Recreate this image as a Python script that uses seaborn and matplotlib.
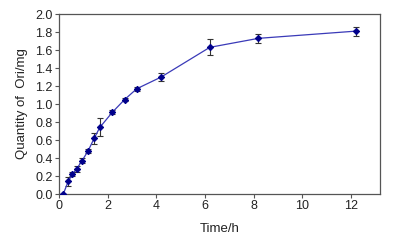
import numpy as np
import pandas as pd
import matplotlib
matplotlib.use("Agg")
import matplotlib.pyplot as plt
import seaborn as sns

time_h = [0.18, 0.38, 0.55, 0.73, 0.95, 1.2, 1.45, 1.68, 2.2, 2.7, 3.2, 4.2, 6.2, 8.2, 12.2]
ori_mg = [0.0, 0.14, 0.22, 0.28, 0.37, 0.48, 0.62, 0.74, 0.91, 1.05, 1.17, 1.30, 1.63, 1.73, 1.81]
ori_err = [0.0, 0.05, 0.02, 0.03, 0.03, 0.02, 0.06, 0.10, 0.02, 0.02, 0.02, 0.04, 0.09, 0.05, 0.05]

df = pd.DataFrame({"t": time_h, "q": ori_mg, "err": ori_err})

sns.set_theme(style="white")
plt.rcParams["font.family"] = ["Liberation Sans", "DejaVu Sans"]

fig, ax = plt.subplots(figsize=(3.98, 2.42), dpi=100)
fig.subplots_adjust(left=0.148, right=0.955, top=0.942, bottom=0.198)

ax.errorbar(df["t"], df["q"], yerr=df["err"], fmt="none", ecolor="#333333",
            elinewidth=0.8, capsize=2.2, capthick=0.8, zorder=2)
sns.lineplot(data=df, x="t", y="q", ax=ax, color="#3a3ab8", linewidth=0.9,
             marker="D", markersize=3.2, markerfacecolor="#00008b",
             markeredgecolor="#00008b", zorder=3)

ax.set_xlim(0, 13.2)
ax.set_ylim(0, 2.0)
ax.set_xticks([0, 2, 4, 6, 8, 10, 12])
ax.set_yticks(np.arange(0, 2.01, 0.2))
ax.yaxis.set_major_formatter(matplotlib.ticker.FormatStrFormatter("%.1f"))
ax.set_xlabel("Time/h", fontsize=9.5, labelpad=8, color="#222222")
ax.set_ylabel("Quantity of  Ori/mg", fontsize=9.5, labelpad=5, color="#222222")

for s in ax.spines.values():
    s.set_color("#555555")
    s.set_linewidth(0.9)
ax.tick_params(direction="out", length=3, width=0.8, color="#555555",
               labelsize=9, pad=1.5, labelcolor="#222222")
ax.tick_params(axis="both", which="both", bottom=True, left=True)

fig.savefig("out.png", dpi=100)
